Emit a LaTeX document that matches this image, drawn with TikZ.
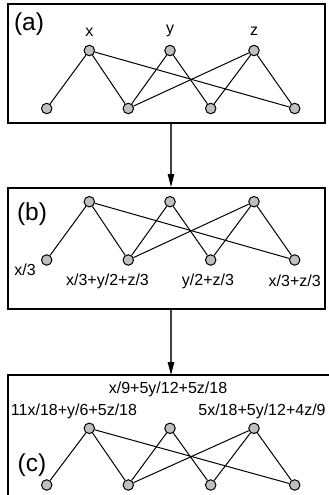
\documentclass[tikz,border=0pt]{standalone}
\usepackage{fontspec}
\setmainfont{Liberation Sans}
\usetikzlibrary{arrows.meta}
\begin{document}
\begin{tikzpicture}[x=1pt,y=-1pt,
  dot/.style={circle,draw=black,fill=black!25,inner sep=0pt,minimum size=10.5pt,line width=1pt},
  edge/.style={line width=1pt},
  lbl/.style={font=\fontsize{16}{18}\selectfont,inner sep=0pt},
  big/.style={font=\fontsize{24.5}{28}\selectfont,inner sep=0pt},
  frame/.style={line width=1.3pt},
  flow/.style={line width=1.1pt,black!75,-{Triangle[length=13pt,width=6.5pt,fill=black,color=black]}}]
\useasboundingbox (0,0) rectangle (329,495);
% boxes
\node[frame,draw,minimum width=317pt,minimum height=119pt,inner sep=0pt] (boxa) at (166.5,63.5) {};
\node[frame,draw,minimum width=317pt,minimum height=121pt,inner sep=0pt] (boxb) at (166.5,248.5) {};
\coordinate (cl) at (8,500);
\coordinate (ctl) at (8,375);
\coordinate (ctr) at (335,375);
\draw[frame] (cl) -- (ctl) -- (ctr);
\coordinate (ctop) at (171,375);
% arrows
\draw[flow] (boxa.south -| 171,0) -- (171,187);
\draw[flow] (boxb.south -| 171,0) -- (ctop);
% labels big
\node[big] (la) at (29,24) {(a)};
\node[big] (lb) at (32,214) {(b)};
\node[big] (lc) at (32,465) {(c)};
% graph a
\foreach \n/\x in {1/89.3,2/170,3/254} {\node[dot] (at\n) at (\x,50.5) {};}
\foreach \n/\x in {1/46.7,2/128.3,3/210.7,4/294.7} {\node[dot] (ab\n) at (\x,108.5) {};}
\node[lbl] (lx) at (89.3,32) {x};
\node[lbl] (ly) at (170,31) {y};
\node[lbl] (lz) at (254,31) {z};
% graph b
\foreach \n/\x in {1/89.3,2/170,3/254} {\node[dot] (bt\n) at (\x,201.7) {};}
\foreach \n/\x in {1/46.7,2/128.3,3/210.7,4/294.7} {\node[dot] (bb\n) at (\x,260) {};}
\node[lbl] (lb1) at (25,269.5) {x/3};
\node[lbl] (lb2) at (107.5,281) {x/3+y/2+z/3};
\node[lbl] (lb3) at (208,281) {y/2+z/3};
\node[lbl] (lb4) at (294.7,281) {x/3+z/3};
% graph c
\foreach \n/\x in {1/89.3,2/170,3/254} {\node[dot] (ct\n) at (\x,428.3) {};}
\foreach \n/\x in {1/46.7,2/128.3,3/210.7,4/294.7} {\node[dot] (cb\n) at (\x,485) {};}
\node[lbl] (lc2) at (168,389.5) {x/9+5y/12+5z/18};
\node[lbl] (lc1) at (74,411.7) {11x/18+y/6+5z/18};
\node[lbl] (lc3) at (262,411.7) {5x/18+5y/12+4z/9};
% edges
\foreach \g in {a,b,c} {
  \draw[edge] (\g t1) -- (\g b1);
  \draw[edge] (\g t1) -- (\g b2);
  \draw[edge] (\g t1) -- (\g b4);
  \draw[edge] (\g t2) -- (\g b2);
  \draw[edge] (\g t2) -- (\g b3);
  \draw[edge] (\g t3) -- (\g b2);
  \draw[edge] (\g t3) -- (\g b3);
  \draw[edge] (\g t3) -- (\g b4);
}
\end{tikzpicture}
\end{document}
